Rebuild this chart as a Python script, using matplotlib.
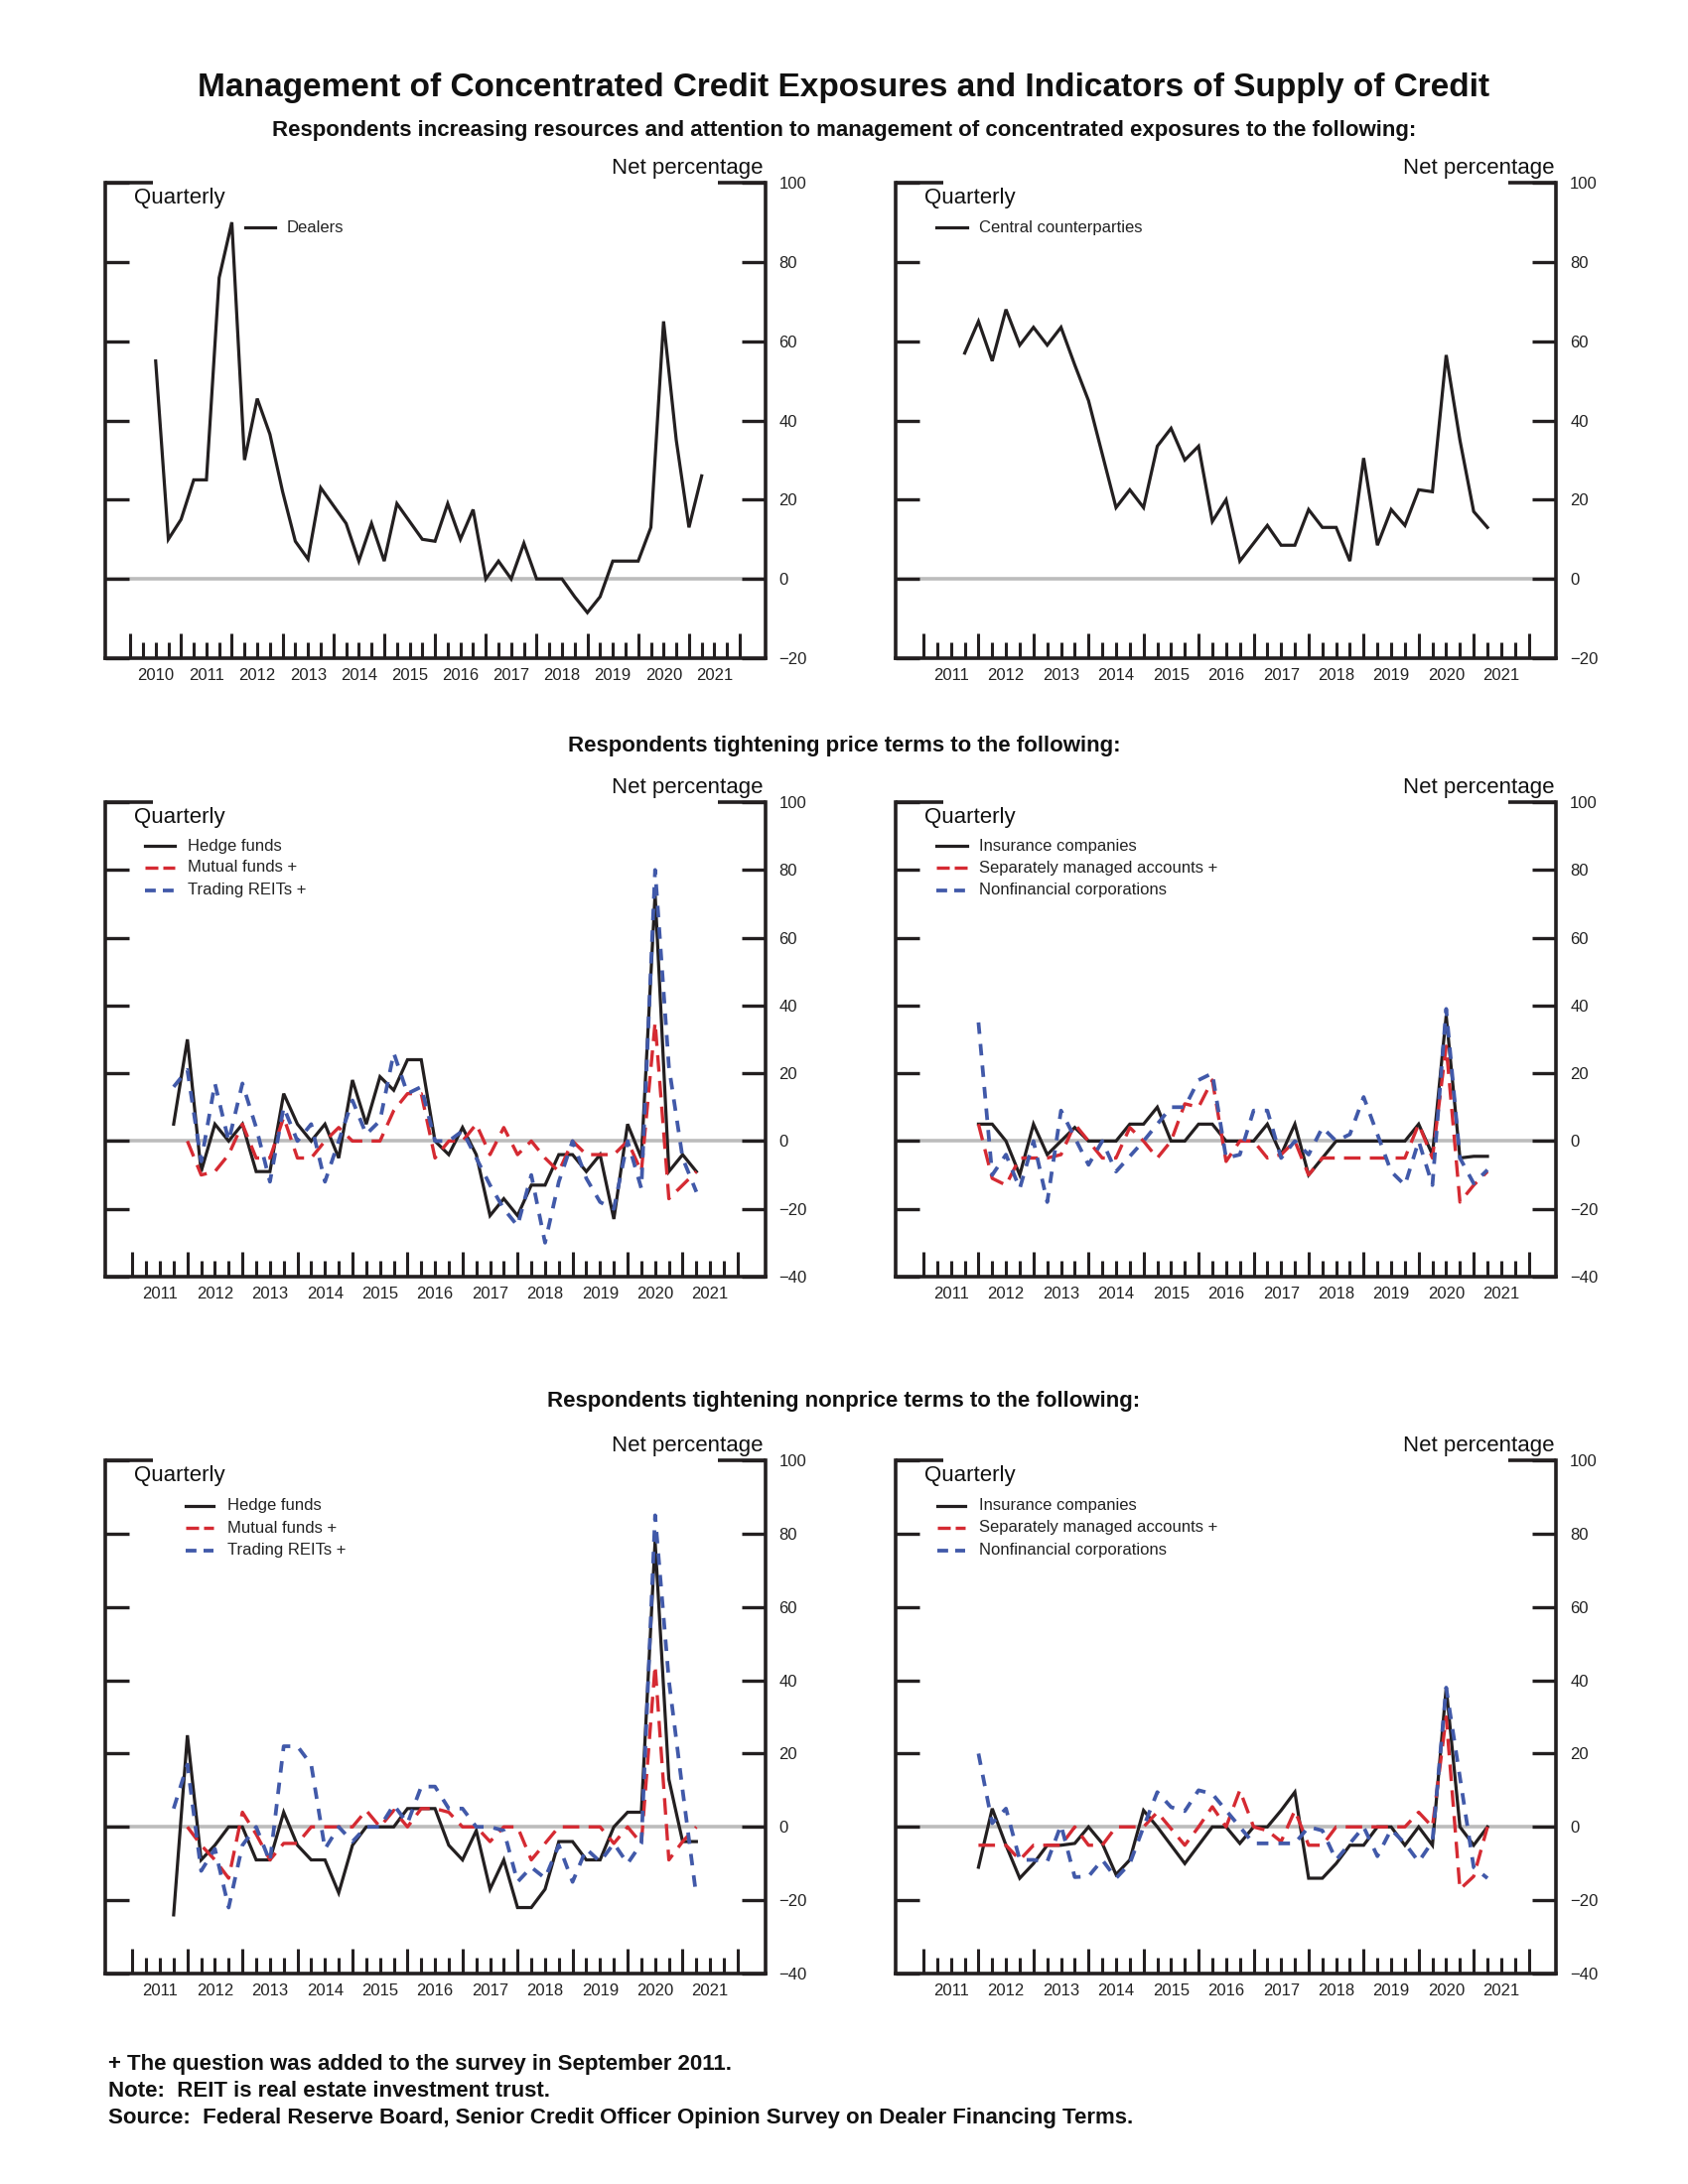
import numpy as np
import pandas as pd
import matplotlib
matplotlib.use("Agg")
import matplotlib.pyplot as plt
import matplotlib.transforms as mtransforms
from matplotlib.lines import Line2D

plt.rcParams['font.family'] = ['Liberation Sans', 'DejaVu Sans']

# ---------------- data (net percentage, quarterly) ----------------
dealers_start = '2010Q2'
dealers = [55, 10, 15, 25, 25, 76, 90, 30, 45.5, 36.5, 22, 9.5, 5, 23, 18.5, 14,
           4.5, 14, 4.5, 19, 14.5, 10, 9.5, 19, 10, 17.5, 0, 4.5, 0, 9, 0, 0,
           0, -4.5, -8.5, -4.5, 4.5, 4.5, 4.5, 13, 65, 35, 13, 26]

ccp_start = '2011Q3'
ccp = [57, 65, 55, 68, 59, 63.5, 59, 63.5, 54, 45, 31.5, 18, 22.5, 18, 33.5, 38,
       30, 33.5, 14.5, 20, 4.5, 9, 13.5, 8.5, 8.5, 17.5, 13, 13, 4.5, 30.5, 8.5,
       17.5, 13.5, 22.5, 22, 56.5, 35, 17, 13]

# price terms
hedge_price_start = '2011Q3'
hedge_price = [5, 30, -9, 5, 0, 5, -9, -9, 14, 5, 0, 5, -5, 18, 5, 19, 15, 24, 24,
               0, -4, 4, -4, -22, -17, -22, -13, -13, -4, -4, -9, -4, -23, 5, -5,
               73, -9, -4, -9]
mutual_price_start = '2011Q4'
mutual_price = [0, -10, -9, -4, 5, -5, -5, 7, -5, -5, 0, 4, 0, 0, 0, 9, 14, 14, -5,
                0, 0, 5, -4, 4, -4, 0, -5, -9, 0, -4, -4, -4, 0, -9, 35, -17, -13, -9]
reits_price_start = '2011Q3'
reits_price = [16, 21, -6, 17, 0, 17, 4, -12, 10, 0, 5, -12, 0, 12, 2, 6, 26, 14, 16,
               0, 0, 3, -5, -13, -20, -25, -10, -30, -12, 0, -11, -18, -20, 0, -14,
               80, 22, -5, -15]

insurance_price_start = '2011Q4'
insurance_price = [5, 5, 0, -10, 5, -4, 0, 4, 0, 0, 0, 5, 5, 10, 0, 0, 5, 5, 0, 0,
                   0, 5, -4, 5, -10, -5, 0, 0, 0, 0, 0, 0, 5, -4, 37, -5, -4.5, -4.5]
sma_price_start = '2011Q4'
sma_price = [5, -11, -13, -5, -5, -5, -4, 5, 0, -5, -5, 4, 0, -5, 0, 11, 10, 18, -6,
             0, 0, -5, -4, 0, -10, -5, -5, -5, -5, -5, -5, -5, 5, -5, 28, -18, -13, -9]
nonfin_price_start = '2011Q4'
nonfin_price = [35, -10, -4, -14, 0, -18, 9, 1, -7, 0, -9, -4.5, 0, 5, 10, 10, 18, 20,
                -5, -4, 9, 9, -5, 0, -4, 4, 0, 2, 13, 2, -9, -13, 0, -13, 39, -5,
                -12.5, -8.5]

# nonprice terms
hedge_nonprice_start = '2011Q3'
hedge_nonprice = [-24, 25, -9, -5, 0, 0, -9, -9, 4, -5, -9, -9, -18, -5, 0, 0, 0, 5,
                  5, 5, -5, -9, -1, -17, -9, -22, -22, -17, -4, -4, -9, -9, 0, 4, 4,
                  78, 13, -4, -4]
mutual_nonprice_start = '2011Q4'
mutual_nonprice = [0, -5, -9, -14, 4, -2, -9, -4.5, -4.5, 0, 0, 0, 0, 4.5, 0, 4.5, 0,
                   5, 5, 4, 0, 0, -4, 0, 0, -9, -4.5, 0, 0, 0, 0, -4.5, 0, -4.5, 44,
                   -9, -4, 0]
reits_nonprice_start = '2011Q3'
reits_nonprice = [5, 17, -12, -6, -22, -5, 0, -9.5, 22, 22, 17, -6, 0, -4, 0, 0, 6, 1,
                  11, 11, 5, 5, 0, 0, -1, -15, -11, -14, -5, -15, -6, -9.5, -4.5, -10,
                  -4.5, 85, 40, 10, -19]

insurance_nonprice_start = '2011Q4'
insurance_nonprice = [-11, 5, -5, -14, -10, -5, -5, -4.5, 0, -4.5, -13, -9, 4.5, 0,
                      -5, -10, -5, 0, 0, -4.5, 0, 0, 4.5, 9.5, -14, -14, -10, -5, -5,
                      0, 0, -5, 0, -5, 38, 0, -5, 0]
sma_nonprice_start = '2011Q4'
sma_nonprice = [-5, -5, -5, -9, -5, -5, -5, 0, -5, -5, 0, 0, 0, 4, -0.5, -5, 0, 5.5,
                0, 10, 0, -1, -4, 4.5, -5, -5, 0, 0, 0, 0, 0, 0, 4, 0, 30, -17, -13.5, 0]
nonfin_nonprice_start = '2011Q4'
nonfin_nonprice = [20, 1, 5, -9, -9, -9.5, 0.5, -13.7, -13.5, -9, -14, -10, 0, 9.5,
                   5.4, 4.3, 10, 9, 4.5, 0, -4.5, -4.5, -4.5, -4.5, 0, -1, -9, -4.5,
                   0, -8, -0.7, -4.5, -9.5, -4, 38, 13.5, -11, -14]

title = "Management of Concentrated Credit Exposures and Indicators of Supply of Credit"
subtitles = ["Respondents increasing resources and attention to management of concentrated exposures to the following:",
             "Respondents tightening price terms to the following:",
             "Respondents tightening nonprice terms to the following:"]
footnotes = ["+ The question was added to the survey in September 2011.",
             "Note:  REIT is real estate investment trust.",
             "Source:  Federal Reserve Board, Senior Credit Officer Opinion Survey on Dealer Financing Terms."]

# ---------------- styles ----------------
BLACK = '#231f20'
RED = '#d52a32'
BLUE = '#4159a9'
GREY = '#bcbcbc'
STY = {
    'k': dict(color=BLACK, lw=2.3, ls='-', solid_joinstyle='miter', zorder=3),
    'r': dict(color=RED, lw=2.4, ls=(0, (5.0, 2.8)), dash_capstyle='butt', zorder=4),
    'b': dict(color=BLUE, lw=2.7, ls=(0, (3.1, 2.7)), dash_capstyle='butt', zorder=5),
}
LEG_LS = {'k': '-', 'r': (0, (3.9, 1.5)), 'b': (0, (2.9, 1.9))}


def qx(start, n):
    p = pd.period_range(start=start, periods=n, freq='Q')
    return np.asarray(p.year + p.quarter / 4.0, dtype=float)


W, H = 1700, 2200
fig = plt.figure(figsize=(17, 22), dpi=100)
fig.patch.set_facecolor('white')

AXW = 665
col_left = [105.6, 902.3]
rows = [(184, 663), (808, 1286), (1471, 1988)]


def corner_trans(ax):
    # pixel offsets from the axes' top-left corner, y measured downward
    return (mtransforms.Affine2D().scale(1 / 100.0, -1 / 100.0) + fig.dpi_scale_trans
            + mtransforms.ScaledTranslation(0, 1, ax.transAxes))


def make_axes(col, row, first_year, ylim):
    left = col_left[col]
    top, bottom = rows[row]
    ax = fig.add_axes([left / W, 1 - bottom / H, AXW / W, (bottom - top) / H])
    ax.set_xlim(first_year - 0.5, 2022.5)
    ax.set_ylim(*ylim)
    years = np.arange(first_year, 2023)
    ax.set_xticks(years, labels=[''] * len(years))
    qpos = [y + f for y in years[:-1] for f in (0.25, 0.5, 0.75)]
    qlab = [str(int(y)) if f == 0.5 else '' for y in years[:-1] for f in (0.25, 0.5, 0.75)]
    ax.set_xticks(qpos, labels=qlab, minor=True)
    ax.tick_params(axis='x', which='major', direction='in', length=18, width=2.2,
                   color=BLACK, bottom=True, top=False)
    ax.tick_params(axis='x', which='minor', direction='in', length=11.5, width=2.2,
                   color=BLACK, bottom=True, top=False, pad=7, labelsize=12,
                   labelcolor='#222222')
    ax.set_yticks(np.arange(ylim[0], ylim[1] + 1, 20))
    ax.tick_params(axis='y', which='major', direction='in', length=17.6, width=2.4,
                   color=BLACK, left=True, right=True, labelleft=False,
                   labelright=True, pad=10, labelsize=12, labelcolor='#222222')
    ax.spines['top'].set_visible(False)
    for s in ('left', 'right', 'bottom'):
        ax.spines[s].set_linewidth(2.6)
        ax.spines[s].set_color(BLACK)
    stub = 48.0 / AXW
    for xs in ([0, stub], [1 - stub, 1]):
        ax.plot(xs, [1, 1], transform=ax.transAxes, color=BLACK, lw=2.6,
                clip_on=False, solid_capstyle='butt')
    ax.axhline(0, color=GREY, lw=2.6, zorder=1)
    ax.annotate('Net percentage', xy=(1, 1), xycoords='axes fraction',
                xytext=(-1.5, 6.8), textcoords='offset points', ha='right',
                va='baseline', fontsize=16, color='#111111')
    ax.annotate('Quarterly', xy=(0, 1), xycoords='axes fraction',
                xytext=(20.9, -15.2), textcoords='offset points', ha='left',
                va='baseline', fontsize=16, color='#111111')
    return ax


def legend(ax, entries, lx, tx, ys):
    tr = corner_trans(ax)
    for (key, label), y in zip(entries, ys):
        st = dict(STY[key])
        st.pop('zorder', None)
        st['ls'] = LEG_LS[key]
        ln = Line2D(lx, [y, y], transform=tr, **st)
        fig.add_artist(ln)
        ax.text(tx, y, label, transform=tr, ha='left', va='center', fontsize=12,
                color='#222222')


panels = [
    dict(col=0, row=0, fy=2010, ylim=(-20, 100),
         series=[('k', dealers_start, dealers)],
         leg=[('k', 'Dealers')], lx=(141, 171), tx=183.5, ys=[45]),
    dict(col=1, row=0, fy=2011, ylim=(-20, 100),
         series=[('k', ccp_start, ccp)],
         leg=[('k', 'Central counterparties')], lx=(40.7, 71.7), tx=83.7, ys=[45]),
    dict(col=0, row=1, fy=2011, ylim=(-40, 100),
         series=[('k', hedge_price_start, hedge_price),
                 ('r', mutual_price_start, mutual_price),
                 ('b', reits_price_start, reits_price)],
         leg=[('k', 'Hedge funds'), ('r', 'Mutual funds +'), ('b', 'Trading REITs +')],
         lx=(40, 70), tx=83.5, ys=[44, 66, 88.5]),
    dict(col=1, row=1, fy=2011, ylim=(-40, 100),
         series=[('k', insurance_price_start, insurance_price),
                 ('r', sma_price_start, sma_price),
                 ('b', nonfin_price_start, nonfin_price)],
         leg=[('k', 'Insurance companies'), ('r', 'Separately managed accounts +'),
              ('b', 'Nonfinancial corporations')],
         lx=(40.7, 71.7), tx=83.7, ys=[44, 66, 88.5]),
    dict(col=0, row=2, fy=2011, ylim=(-40, 100),
         series=[('k', hedge_nonprice_start, hedge_nonprice),
                 ('r', mutual_nonprice_start, mutual_nonprice),
                 ('b', reits_nonprice_start, reits_nonprice)],
         leg=[('k', 'Hedge funds'), ('r', 'Mutual funds +'), ('b', 'Trading REITs +')],
         lx=(81, 109), tx=123, ys=[45.7, 68, 90.6]),
    dict(col=1, row=2, fy=2011, ylim=(-40, 100),
         series=[('k', insurance_nonprice_start, insurance_nonprice),
                 ('r', sma_nonprice_start, sma_nonprice),
                 ('b', nonfin_nonprice_start, nonfin_nonprice)],
         leg=[('k', 'Insurance companies'), ('r', 'Separately managed accounts +'),
              ('b', 'Nonfinancial corporations')],
         lx=(41.7, 69.7), tx=83.7, ys=[45.7, 68, 90.6]),
]

for p in panels:
    ax = make_axes(p['col'], p['row'], p['fy'], p['ylim'])
    for key, start, vals in p['series']:
        ax.plot(qx(start, len(vals)), vals, **STY[key])
    legend(ax, p['leg'], p['lx'], p['tx'], p['ys'])

fig.text(0.5, 1 - 88.4 / H, title, ha='center', va='center', fontsize=24,
         fontweight='bold', color='#111111')
for s, y in zip(subtitles, [131.9, 752, 1411]):
    fig.text(0.5, 1 - y / H, s, ha='center', va='center', fontsize=16,
             fontweight='bold', color='#111111')
for s, y in zip(footnotes, [2079, 2107, 2134]):
    fig.text(109 / W, 1 - y / H, s, ha='left', va='center', fontsize=16,
             fontweight='bold', color='#111111')

fig.savefig('out.png', dpi=100, facecolor='white')
